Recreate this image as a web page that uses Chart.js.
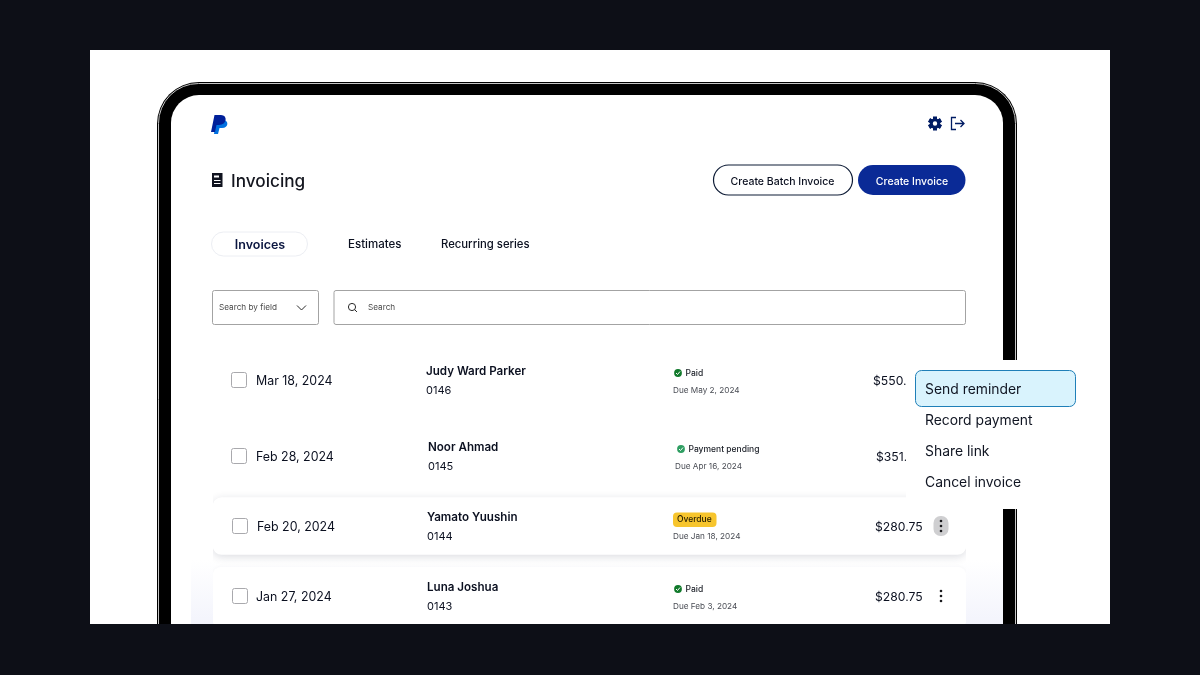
<!DOCTYPE html>
<html>
<head>
<meta charset="utf-8">
<title>Invoicing</title>
<style>
  html, body { margin: 0; padding: 0; background: #0d0f17; overflow: hidden; }
  #chart { display: block; }
</style>
<script src="https://cdn.jsdelivr.net/npm/chart.js@4"></script>
</head>
<body>
<canvas id="chart" width="1200" height="675"></canvas>
<script>
// invoice list
const invoiceDates = ["Mar 18, 2024", "Feb 28, 2024", "Feb 20, 2024", "Jan 27, 2024"];
const customers = ["Judy Ward Parker", "Noor Ahmad", "Yamato Yuushin", "Luna Joshua"];
const invoiceNumbers = ["0146", "0145", "0144", "0143"];
const statuses = ["Paid", "Payment pending", "Overdue", "Paid"];
const dueDates = ["Due May 2, 2024", "Due Apr 16, 2024", "Due Jan 18, 2024", "Due Feb 3, 2024"];
const amounts = ["$550.", "$351.", "$280.75", "$280.75"];
const menuItems = ["Send reminder", "Record payment", "Share link", "Cancel invoice"];
const tabs = ["Invoices", "Estimates", "Recurring series"];

const FONT = "Inter, 'Noto Sans', sans-serif";
const INK = "#0b1020";
const NAVY = "#001c64";

// the rows are not quite aligned in the picture, so each one has its own nudges
const rowNudge = [
  { cb: 231, date: 256, name: 426, status: 673, due: 673, amount: 873, dy: -2 },
  { cb: 231, date: 256, name: 428, status: 676, due: 675, amount: 876, dy: 2 },
  { cb: 232, date: 257, name: 427, status: 673, due: 673, amount: 875, dy: 0 },
  { cb: 232, date: 256, name: 427, status: 673, due: 673, amount: 875, dy: -2 },
];

function roundRect(ctx, x, y, w, h, r) {
  ctx.beginPath();
  ctx.roundRect(x, y, w, h, r);
}

function label(ctx, text, x, y, size, weight, color, align) {
  ctx.font = `${weight} ${size}px ${FONT}`;
  ctx.fillStyle = color;
  ctx.textAlign = align || "left";
  ctx.textBaseline = "middle";
  ctx.fillText(text, x, y + 1);
}

function drawDevice(ctx) {
  ctx.fillStyle = "#0d0f17";
  ctx.fillRect(0, 0, 1200, 675);
  ctx.fillStyle = "#ffffff";
  ctx.fillRect(90, 50, 1020, 574);

  // bezel with its thin light rim
  ctx.fillStyle = "#000000";
  roundRect(ctx, 157, 82, 860, 640, 42);
  ctx.fill();
  ctx.strokeStyle = "#c4c4c4";
  ctx.lineWidth = 1;
  roundRect(ctx, 158.5, 83.5, 857, 640, 40);
  ctx.stroke();
  ctx.fillStyle = "#ffffff";
  roundRect(ctx, 171, 95, 832, 620, 28);
  ctx.fill();

  // pale lavender fade at the bottom of the screen
  const fade = ctx.createLinearGradient(0, 560, 0, 624);
  fade.addColorStop(0, "rgba(243,244,252,0)");
  fade.addColorStop(1, "rgba(243,244,252,1)");
  ctx.fillStyle = fade;
  ctx.fillRect(191, 560, 812, 64);
}

function drawLogo(ctx) {
  ctx.fillStyle = "#0070e0";
  ctx.beginPath();
  ctx.moveTo(216, 120);
  ctx.lineTo(223, 120);
  ctx.bezierCurveTo(229, 120, 229, 128, 222, 128);
  ctx.lineTo(219.5, 128);
  ctx.lineTo(218, 134);
  ctx.lineTo(214, 134);
  ctx.closePath();
  ctx.fill();
  ctx.fillStyle = "#00209a";
  ctx.beginPath();
  ctx.moveTo(214.5, 115);
  ctx.lineTo(221, 115);
  ctx.bezierCurveTo(228, 115, 227, 125, 219, 125);
  ctx.lineTo(216.5, 125);
  ctx.lineTo(215, 132);
  ctx.lineTo(211, 132);
  ctx.closePath();
  ctx.fill();
}

function drawHeaderIcons(ctx) {
  // gear
  ctx.save();
  ctx.translate(935, 123.5);
  ctx.fillStyle = NAVY;
  for (let i = 0; i < 6; i++) {
    ctx.rotate(Math.PI / 3);
    ctx.fillRect(-2, -6.8, 4, 13.6);
  }
  ctx.beginPath();
  ctx.arc(0, 0, 5.2, 0, Math.PI * 2);
  ctx.fill();
  ctx.fillStyle = "#ffffff";
  ctx.beginPath();
  ctx.arc(0, 0, 2.2, 0, Math.PI * 2);
  ctx.fill();
  ctx.restore();

  // log out
  ctx.strokeStyle = NAVY;
  ctx.lineWidth = 1.3;
  ctx.beginPath();
  ctx.moveTo(956, 117.5);
  ctx.lineTo(951.5, 117.5);
  ctx.lineTo(951.5, 129.5);
  ctx.lineTo(956, 129.5);
  ctx.moveTo(955, 123.5);
  ctx.lineTo(964, 123.5);
  ctx.moveTo(960.5, 120);
  ctx.lineTo(964, 123.5);
  ctx.lineTo(960.5, 127);
  ctx.stroke();

  // document next to the title
  ctx.fillStyle = "#10131f";
  ctx.fillRect(212, 173, 10.5, 14);
  ctx.fillStyle = "#ffffff";
  ctx.fillRect(214, 175.5, 5, 2);
  ctx.fillRect(214, 180, 6.5, 1);
  ctx.fillRect(214, 183, 6.5, 1);
}

function drawHeader(ctx) {
  label(ctx, "Invoicing", 231, 180.5, 17.2, 500, "#14161f");

  ctx.strokeStyle = "#0e1c36";
  ctx.lineWidth = 1.2;
  roundRect(ctx, 713.5, 165, 139, 30, 15);
  ctx.stroke();
  label(ctx, "Create Batch Invoice", 782.5, 180.5, 10.5, 500, INK, "center");
  ctx.fillStyle = "#0a2a96";
  roundRect(ctx, 858, 165, 107.5, 30, 15);
  ctx.fill();
  label(ctx, "Create Invoice", 912, 180.5, 10.5, 500, "#ffffff", "center");

  ctx.strokeStyle = "#eceef3";
  ctx.lineWidth = 1;
  roundRect(ctx, 211.5, 232, 96, 24, 12);
  ctx.stroke();
  label(ctx, tabs[0], 260, 244, 12.5, 600, "#0b1640", "center");
  label(ctx, tabs[1], 348, 243.5, 11.5, 500, INK);
  label(ctx, tabs[2], 441, 243.5, 11.3, 500, INK);

  // search fields
  ctx.strokeStyle = "#a3a3a3";
  ctx.lineWidth = 1;
  roundRect(ctx, 212.5, 290.5, 106, 34, 2);
  ctx.stroke();
  roundRect(ctx, 334, 290.5, 631.5, 34, 2);
  ctx.stroke();
  label(ctx, "Search by field", 219, 307, 8.2, 400, "#4a4a4a");
  label(ctx, "Search", 368, 307, 8.2, 400, "#4a4a4a");

  ctx.strokeStyle = "#2a2a2a";
  ctx.lineWidth = 1;
  ctx.beginPath();
  ctx.moveTo(297, 305.5);
  ctx.lineTo(301.5, 310);
  ctx.lineTo(306, 305.5);
  ctx.stroke();
  ctx.beginPath();
  ctx.arc(352, 307, 3.6, 0, Math.PI * 2);
  ctx.moveTo(354.6, 309.6);
  ctx.lineTo(357, 312);
  ctx.stroke();
}

function drawCheckBadge(ctx, cx, cy, pending) {
  ctx.fillStyle = pending ? "#2f9e62" : "#127a2c";
  ctx.beginPath();
  ctx.arc(cx, cy, 3.9, 0, Math.PI * 2);
  ctx.fill();
  ctx.strokeStyle = "#ffffff";
  ctx.lineWidth = 1;
  ctx.beginPath();
  ctx.moveTo(cx - 2, cy);
  ctx.lineTo(cx - 0.5, cy + 1.5);
  ctx.lineTo(cx + 2, cy - 1.5);
  ctx.stroke();
}

function drawKebab(ctx, cx, cy) {
  ctx.fillStyle = "#1b1b1f";
  [-5, 0, 5].forEach((d) => {
    ctx.beginPath();
    ctx.arc(cx, cy + d, 1.3, 0, Math.PI * 2);
    ctx.fill();
  });
}

function drawRows(chart) {
  const ctx = chart.ctx;
  const yScale = chart.scales.y;
  invoiceDates.forEach((date, i) => {
    const n = rowNudge[i];
    const y = yScale.getPixelForValue(i) + n.dy;

    ctx.strokeStyle = "#a9a9ad";
    ctx.lineWidth = 1;
    roundRect(ctx, n.cb + 0.5, y - 7.5, 15, 15, 2);
    ctx.stroke();

    label(ctx, date, n.date, y + 0.5, 12.4, 400, INK);
    label(ctx, customers[i], n.name, y - 9, 11.6, 600, INK);
    label(ctx, invoiceNumbers[i], n.name, y + 10, 11, 400, INK);

    if (statuses[i] === "Overdue") {
      ctx.fillStyle = "#f7c52d";
      roundRect(ctx, n.status, y - 13.5, 43.5, 14.5, 4);
      ctx.fill();
      label(ctx, statuses[i], n.status + 4, y - 7.5, 8.5, 500, "#231b00");
    } else {
      drawCheckBadge(ctx, n.status + 5, y - 7, statuses[i] !== "Paid");
      label(ctx, statuses[i], n.status + 12.5, y - 8, 8.5, 500, "#20242c");
    }
    label(ctx, dueDates[i], n.due, y + 9.5, 8.2, 400, "#4a4d55");
    label(ctx, amounts[i], n.amount, y, 12.2, 400, INK);

    if (i >= 2) {
      if (i === 2) {
        ctx.fillStyle = "#cfcfd1";
        roundRect(ctx, 933.5, y - 10, 15, 20, 7);
        ctx.fill();
      }
      drawKebab(ctx, 941, y);
    }
  });
}

function drawMenu(ctx) {
  ctx.fillStyle = "#ffffff";
  ctx.fillRect(963, 360, 113, 45);
  ctx.fillRect(906, 405, 175, 104);
  ctx.fillStyle = "#d9f3fd";
  ctx.strokeStyle = "#1f7fb8";
  ctx.lineWidth = 1;
  roundRect(ctx, 915.5, 370.5, 160, 36, 6);
  ctx.fill();
  ctx.stroke();
  menuItems.forEach((item, i) => {
    label(ctx, item, 925, 388.5 + i * 31, 13.9, 400, "#101522");
  });
}

// everything around the rows is page furniture, painted on the same canvas
const invoicePage = {
  id: "invoicePage",
  beforeDatasetsDraw(chart) {
    const ctx = chart.ctx;
    ctx.save();
    drawDevice(ctx);
    drawLogo(ctx);
    drawHeaderIcons(ctx);
    drawHeader(ctx);
    ctx.restore();
  },
  beforeDatasetDraw(chart, args) {
    const ctx = chart.ctx;
    ctx.save();
    ctx.shadowColor = args.index === 0 ? "rgba(30,35,70,0.16)" : "rgba(30,35,70,0.04)";
    ctx.shadowBlur = args.index === 0 ? 8 : 4;
    ctx.shadowOffsetY = args.index === 0 ? 2 : 0;
  },
  afterDatasetDraw(chart) {
    chart.ctx.restore();
  },
  afterDatasetsDraw(chart) {
    const ctx = chart.ctx;
    ctx.save();
    drawRows(chart);
    drawMenu(ctx);
    ctx.fillStyle = "#0d0f17";
    ctx.fillRect(0, 624, 1200, 51);
    ctx.restore();
  },
};

new Chart(document.getElementById("chart"), {
  type: "bar",
  data: {
    labels: invoiceDates,
    datasets: [
      {
        label: "Hovered row",
        data: [null, null, [0, 1], null],
        backgroundColor: "#ffffff",
        borderRadius: 9,
        borderSkipped: false,
        barThickness: 57,
        grouped: false,
      },
      {
        label: "Next row",
        data: [null, null, null, [0, 1]],
        backgroundColor: "#ffffff",
        borderRadius: 9,
        borderSkipped: false,
        barThickness: 62,
        grouped: false,
      },
    ],
  },
  options: {
    indexAxis: "y",
    responsive: false,
    animation: false,
    layout: { padding: { left: 213, right: 234, top: 346, bottom: 41 } },
    plugins: { legend: { display: false }, tooltip: { enabled: false }, title: { display: false } },
    events: [],
    scales: {
      x: { display: false, min: 0, max: 1 },
      y: { display: false },
    },
  },
  plugins: [invoicePage],
});
</script>
</body>
</html>
